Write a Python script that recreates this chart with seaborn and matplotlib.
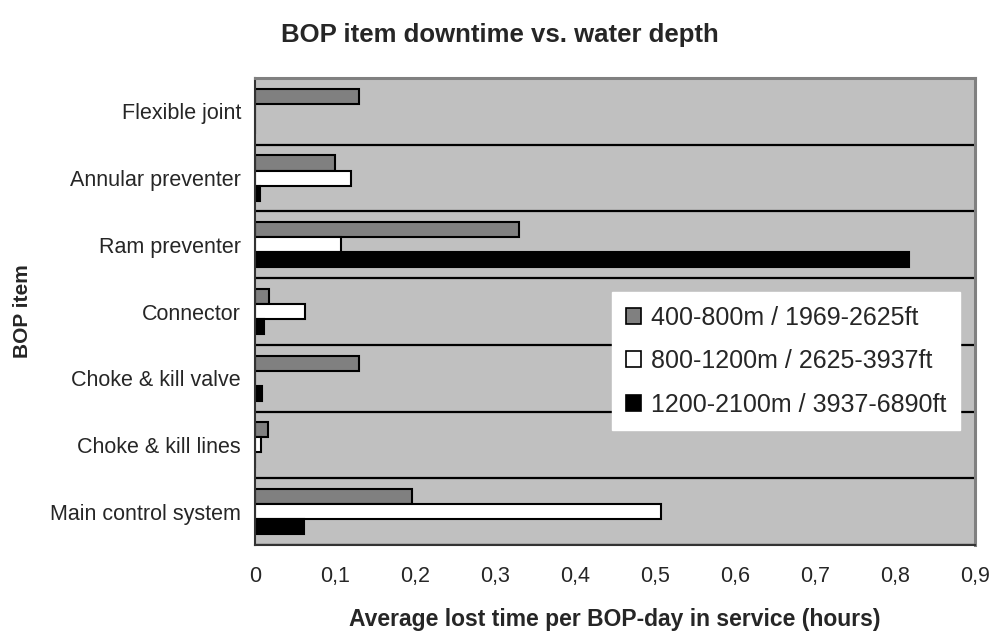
import numpy as np
import pandas as pd
import matplotlib
matplotlib.use("Agg")
import matplotlib.pyplot as plt
import seaborn as sns

# BOP items (top to bottom) and average lost hours per BOP-day for each depth band
items = ["Flexible joint", "Annular preventer", "Ram preventer", "Connector",
         "Choke & kill valve", "Choke & kill lines", "Main control system"]
depth_bands = ["400-800m / 1969-2625ft", "800-1200m / 2625-3937ft",
               "1200-2100m / 3937-6890ft"]
hours_400_800 = [0.130, 0.100, 0.330, 0.018, 0.130, 0.016, 0.196]
hours_800_1200 = [0.0, 0.120, 0.108, 0.063, 0.0, 0.008, 0.508]
hours_1200_2100 = [0.0, 0.006, 0.818, 0.011, 0.009, 0.0, 0.061]
x_ticks = [0.0, 0.1, 0.2, 0.3, 0.4, 0.5, 0.6, 0.7, 0.8, 0.9]
x_tick_labels = ["0", "0,1", "0,2", "0,3", "0,4", "0,5", "0,6", "0,7", "0,8", "0,9"]

band_colors = ["#808080", "#FFFFFF", "#000000"]

df = pd.DataFrame({
    "item": items * 3,
    "depth": [b for b in depth_bands for _ in items],
    "hours": hours_400_800 + hours_800_1200 + hours_1200_2100,
})

sns.set_style("white")
plt.rcParams["font.family"] = ["Liberation Sans", "DejaVu Sans"]

fig = plt.figure(figsize=(9.94, 6.31), dpi=100)
ax = fig.add_axes([255 / 994, 86 / 631, 720 / 994, 467 / 631])
ax.set_facecolor("#C0C0C0")

sns.barplot(data=df, y="item", x="hours", hue="depth", order=items,
            hue_order=depth_bands, palette=dict(zip(depth_bands, band_colors)),
            orient="h", width=0.68, saturation=1, errorbar=None,
            edgecolor="black", linewidth=1.5, ax=ax)

ax.set_xlim(0, 0.9)
ax.set_ylim(len(items) - 0.5, -0.5)

ax.set_xticks(x_ticks)
ax.set_xticklabels(x_tick_labels, fontsize=15.5)
ax.tick_params(axis="x", which="major", direction="inout", length=10,
               width=1.2, color="black", pad=10)

# category labels at the band centres, tick marks and grid lines on the boundaries
ax.set_yticks(range(len(items)))
ax.set_yticklabels(items, fontsize=15.5)
ax.set_yticks(np.arange(-0.5, len(items), 1.0), minor=True)
ax.tick_params(axis="y", which="major", length=0, pad=10)
ax.tick_params(axis="y", which="minor", direction="inout", length=14,
               width=1.2, color="black")
ax.grid(False)
ax.grid(True, axis="y", which="minor", color="black", linewidth=1.6)
ax.set_axisbelow(True)

for side in ("left", "bottom"):
    ax.spines[side].set_color("#333333")
    ax.spines[side].set_linewidth(1.5)
for side in ("top", "right"):
    ax.spines[side].set_color("#808080")
    ax.spines[side].set_linewidth(2.2)

ax.set_xlabel("Average lost time per BOP-day in service (hours)",
              fontsize=16.5, fontweight="bold", labelpad=15)
ax.set_ylabel("BOP item", fontsize=15, fontweight="bold", labelpad=13)

fig.suptitle("BOP item downtime vs. water depth", x=0.503, y=0.945,
             fontsize=18.5, fontweight="bold", va="center")

handles, labels = ax.get_legend_handles_labels()
leg = ax.legend(handles, labels, loc="upper left",
                bbox_to_anchor=(0.496, 0.542), fontsize=18,
                frameon=True, fancybox=False, framealpha=1,
                facecolor="white", edgecolor="white",
                handlelength=0.6, handleheight=0.6, handletextpad=0.4,
                labelspacing=0.78, borderpad=0.55, borderaxespad=0)
for h in leg.legend_handles:
    h.set_linewidth(1.2)
    h.set_edgecolor("black")

fig.savefig("out.png", dpi=100)
